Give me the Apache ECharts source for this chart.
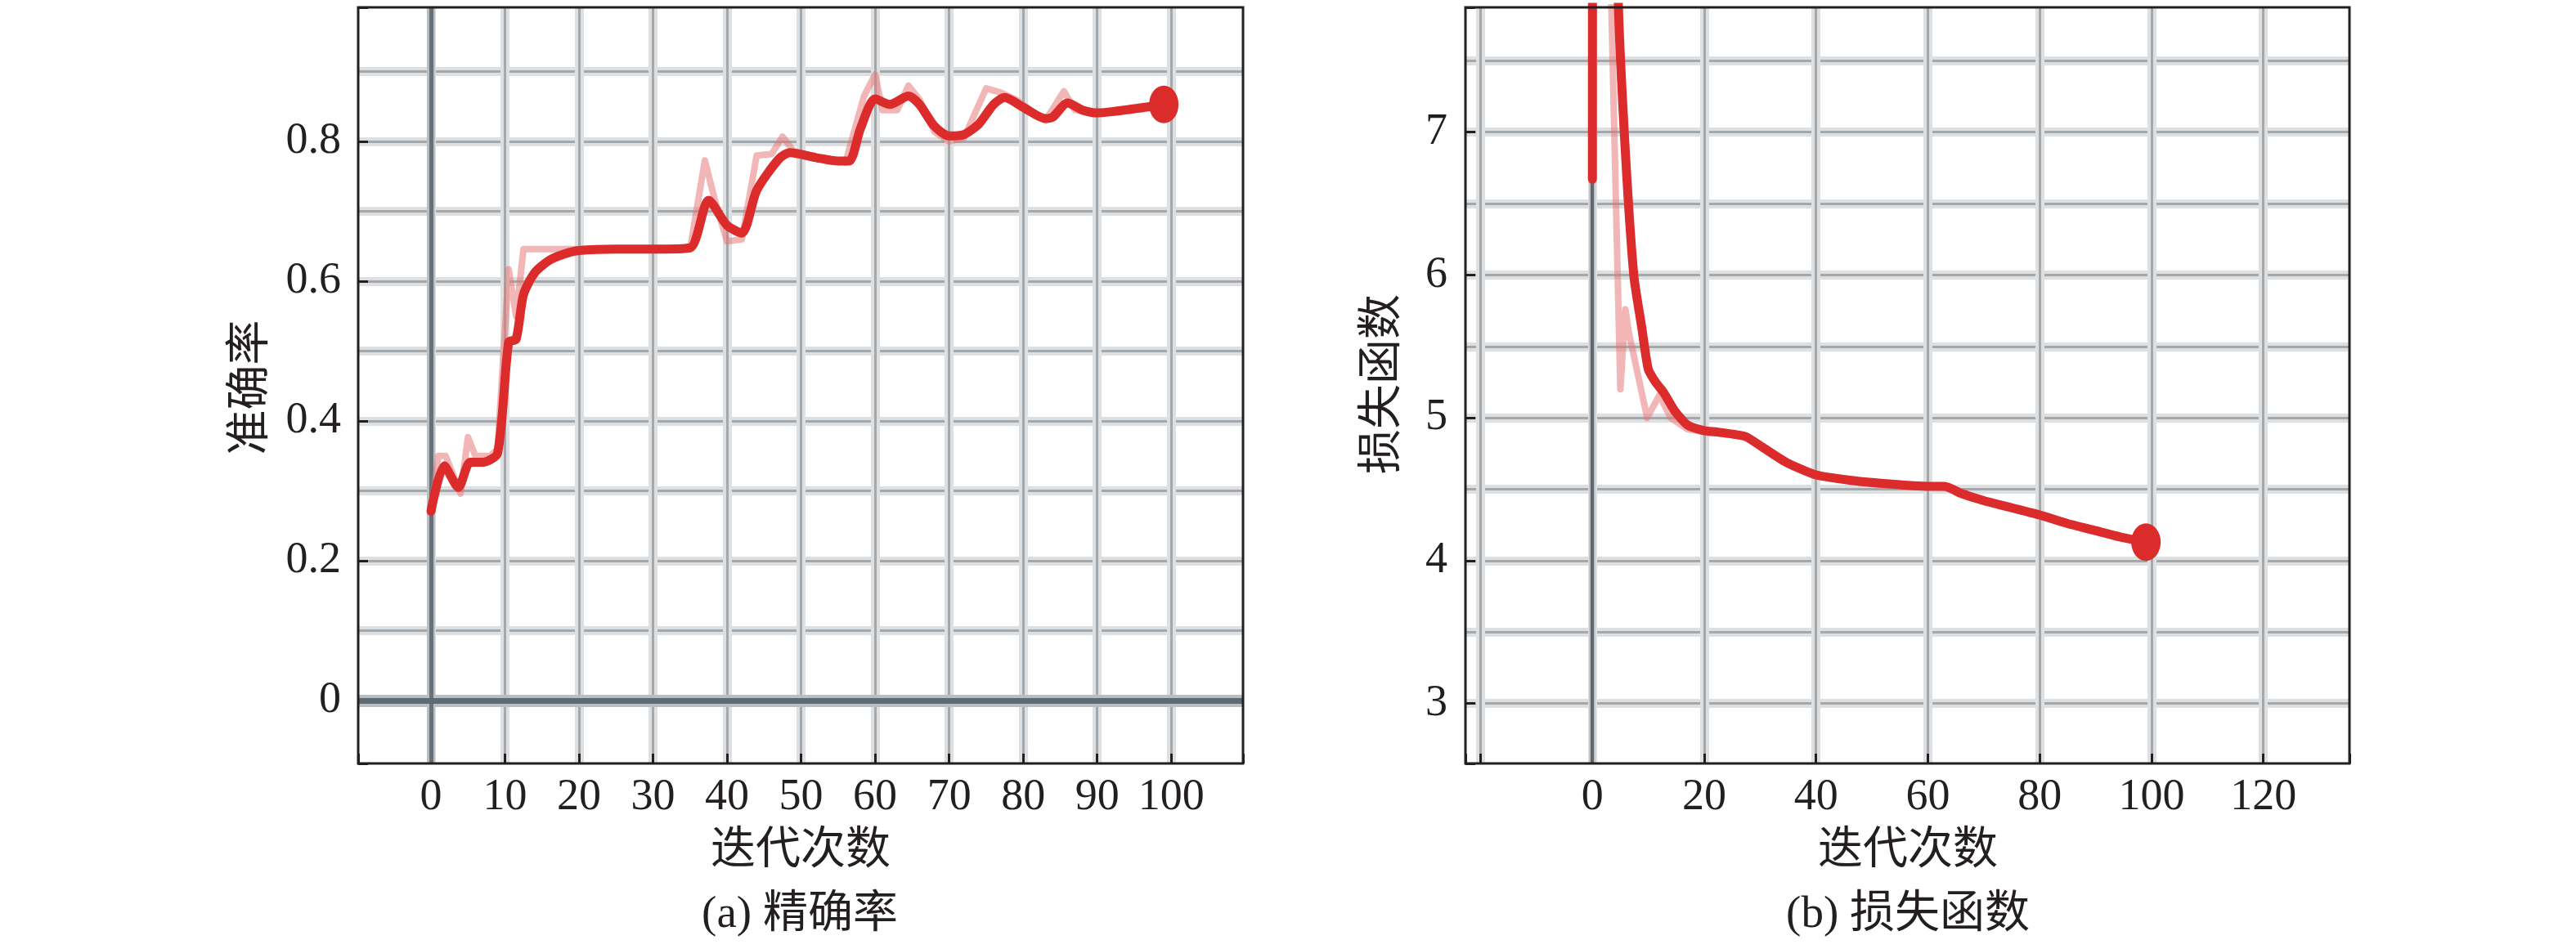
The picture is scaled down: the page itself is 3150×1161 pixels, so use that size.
<!DOCTYPE html>
<html>
<head>
<meta charset="utf-8">
<script src="https://cdn.jsdelivr.net/npm/echarts@6/dist/echarts.min.js"></script>
<style>
  html, body { margin: 0; padding: 0; background: #fff; }
  #chart { width: 3150px; height: 1161px; }
</style>
</head>
<body>
<div id="chart"></div>
<script>
// (a) 精确率 — smoothed curve and raw curve (iteration, value)
const accIter = [0, 1.8, 3.7, 5.3, 7, 9, 10.5, 11.5, 12.5, 14, 16, 18, 20, 25, 30, 35, 37.5, 40, 42, 44, 47, 48.5, 52, 55, 56.5, 58, 60, 62, 64.5, 66, 68, 70, 72, 74, 76, 77.5, 80, 83, 84, 86, 88, 90, 95, 99]
const accSmooth = [0.271, 0.336, 0.305, 0.341, 0.341, 0.354, 0.513, 0.517, 0.581, 0.612, 0.630, 0.639, 0.644, 0.646, 0.646, 0.648, 0.716, 0.680, 0.669, 0.730, 0.775, 0.784, 0.777, 0.772, 0.772, 0.818, 0.861, 0.853, 0.865, 0.853, 0.822, 0.808, 0.810, 0.825, 0.853, 0.863, 0.849, 0.833, 0.835, 0.855, 0.845, 0.841, 0.847, 0.853]
const accRawIter = [0, 1, 2, 4, 5, 6, 8, 9, 10.5, 11.5, 12.5, 20, 35, 37, 38.5, 40, 42, 44, 46, 47.5, 49, 52, 56, 58.5, 60, 61, 63, 64.5, 66, 68, 70, 72, 75, 77, 79, 83, 85.5, 87, 90, 95, 99]
const accRaw = [0.27, 0.35, 0.35, 0.296, 0.377, 0.35, 0.35, 0.36, 0.617, 0.55, 0.646, 0.646, 0.646, 0.773, 0.71, 0.657, 0.66, 0.78, 0.782, 0.807, 0.786, 0.778, 0.77, 0.865, 0.896, 0.845, 0.845, 0.88, 0.86, 0.814, 0.80, 0.805, 0.876, 0.87, 0.86, 0.83, 0.872, 0.845, 0.84, 0.845, 0.85]

// (b) 损失函数 — the early values run far above the visible range
const lossIter = [0, 0.3, 4.2, 4.6, 5.7, 7.4, 8.8, 10, 11.3, 12.7, 14.7, 17, 20, 22.4, 27.3, 30.2, 34.6, 40, 46.7, 52, 60, 63, 66, 70, 75, 80, 85, 90, 95, 99]
const lossSmooth = [6.67, 15, 15, 8.0, 7.0, 6.0, 5.64, 5.34, 5.25, 5.18, 5.05, 4.95, 4.91, 4.90, 4.87, 4.80, 4.69, 4.60, 4.56, 4.54, 4.52, 4.52, 4.47, 4.42, 4.37, 4.32, 4.26, 4.21, 4.16, 4.13]
const lossRawIter = [0, 0.3, 3.2, 5, 5.9, 6.5, 9.8, 12, 14, 17, 20, 25, 28, 30, 35, 40, 50, 60, 63, 70, 80, 90, 99]
const lossRaw = [6.67, 15, 8.2, 5.2, 5.76, 5.6, 5.0, 5.16, 5.0, 4.92, 4.90, 4.88, 4.86, 4.80, 4.68, 4.60, 4.55, 4.52, 4.51, 4.42, 4.31, 4.20, 4.12]

// tick labels
const accXTicks = [0, 10, 20, 30, 40, 50, 60, 70, 80, 90, 100]
const accYTicks = [0, 0.2, 0.4, 0.6, 0.8]
const lossXTicks = [0, 20, 40, 60, 80, 100, 120]
const lossYTicks = [3, 4, 5, 6, 7]

// axis ranges
const accXRange = [-9.83, 109.7]
const accYRange = [-0.09, 0.992]
const lossXRange = [-22.7, 135.4]
const lossYRange = [2.58, 7.874]

const SERIF = "'Liberation Serif', 'Noto Sans CJK SC', serif"
const INK = '#231f20'
const RED = '#dc2b2b'
const PINK = 'rgba(232, 110, 110, 0.5)'

const pairs = (xs, ys) => xs.map((x, i) => [x, ys[i]])
const onlyTicks = (ticks) => (v) => {
  const hit = ticks.find(t => Math.abs(t - v) < 1e-6)
  return hit === undefined ? '' : String(hit)
}

// a plain value axis with nothing shown
const baseAxis = (gridIndex, range, step, extra) => Object.assign({
  type: 'value',
  gridIndex: gridIndex,
  min: range[0],
  max: range[1],
  minInterval: step,
  maxInterval: step,
  axisLine: { show: false, onZero: false },
  axisTick: { show: false },
  axisLabel: { show: false },
  splitLine: { show: false }
}, extra)

const halo = { show: true, showMinLine: false, showMaxLine: false, lineStyle: { color: '#dedfe1', width: 11 } }
const core = { show: true, showMinLine: false, showMaxLine: false, lineStyle: { color: '#a3a8ad', width: 3 } }
const tick = { show: true, inside: true, length: 12, lineStyle: { color: INK, width: 3 } }
const label = (ticks, margin) => ({
  show: true, margin: margin, color: INK, fontSize: 54, fontFamily: SERIF, formatter: onlyTicks(ticks)
})

const accRect = { left: 438, top: 9, width: 1082, height: 925 }
const lossRect = { left: 1792, top: 9, width: 1081, height: 925 }

const grids = []
;[accRect, lossRect].forEach(r => {
  grids.push(Object.assign({ show: false }, r))
  grids.push(Object.assign({ show: false }, r))
  grids.push(Object.assign({ show: true, borderColor: INK, borderWidth: 3, backgroundColor: 'transparent', z: 10 }, r))
})

const xAxes = [
  baseAxis(0, accXRange, 10, { splitLine: halo }),
  baseAxis(1, accXRange, 10, { splitLine: core, axisTick: tick, axisLabel: label(accXTicks, 15) }),
  baseAxis(2, accXRange, 10),
  baseAxis(3, lossXRange, 20, { splitLine: halo }),
  baseAxis(4, lossXRange, 20, { splitLine: core, axisTick: tick, axisLabel: label(lossXTicks, 15) }),
  baseAxis(5, lossXRange, 20)
]
const yAxes = [
  baseAxis(0, accYRange, 0.1, { splitLine: halo }),
  baseAxis(1, accYRange, 0.1, { splitLine: core }),
  baseAxis(2, accYRange, 0.2, { axisTick: tick, axisLabel: label(accYTicks, 21) }),
  baseAxis(3, lossYRange, 0.5, { splitLine: halo }),
  baseAxis(4, lossYRange, 0.5, { splitLine: core }),
  baseAxis(5, lossYRange, 1, { axisTick: tick, axisLabel: label(lossYTicks, 22) })
]

// dark zero lines through the library's scales
const zeroLines = (axisIdx, items, z) => ({
  type: 'line', xAxisIndex: axisIdx, yAxisIndex: axisIdx, data: [], silent: true,
  markLine: {
    z: z, silent: true, symbol: 'none', label: { show: false }, emphasis: { disabled: true },
    animation: false, data: items
  }
})
const zl = (key, color, width) => ({ [key]: 0, lineStyle: { color: color, width: width, type: 'solid' } })

const curve = (axisIdx, data, color, width, z, smooth) => ({
  type: 'line', xAxisIndex: axisIdx, yAxisIndex: axisIdx, data: data, z: z,
  showSymbol: false, symbol: 'none', silent: true, clip: true, smooth: smooth || false,
  lineStyle: { color: color, width: width, cap: 'round', join: 'round' }
})
const endDot = (axisIdx, xs, ys) => ({
  type: 'scatter', xAxisIndex: axisIdx, yAxisIndex: axisIdx, z: 6, silent: true,
  symbol: 'circle', symbolSize: [36, 46], itemStyle: { color: RED, opacity: 1 },
  data: [[xs[xs.length - 1], ys[ys.length - 1]]]
})

const series = [
  zeroLines(1, [zl('xAxis', '#b9bec2', 10), zl('yAxis', '#b9bec2', 15)], 1),
  zeroLines(1, [zl('xAxis', '#66717a', 5), zl('yAxis', '#5f6a72', 7)], 2),
  zeroLines(4, [zl('xAxis', '#bfc3c6', 8)], 1),
  zeroLines(4, [zl('xAxis', '#5f6870', 4)], 2),
  curve(1, pairs(accRawIter, accRaw), PINK, 8, 3),
  curve(1, pairs(accIter, accSmooth), RED, 11, 4, 0.25),
  endDot(1, accIter, accSmooth),
  curve(4, pairs(lossRawIter, lossRaw), PINK, 8, 3),
  curve(4, pairs(lossIter, lossSmooth), RED, 11, 4, 0.2),
  endDot(4, lossIter, lossSmooth)
]

const text = (str, x, y, rot) => ({
  type: 'text', x: x, y: y, rotation: rot || 0, z: 20, silent: true,
  style: { text: str, fill: INK, fontSize: 55, fontFamily: SERIF, align: 'center', verticalAlign: 'middle' }
})

const option = {
  backgroundColor: '#ffffff',
  animation: false,
  grid: grids,
  xAxis: xAxes,
  yAxis: yAxes,
  series: series,
  graphic: [
    text('准确率', 308, 474, Math.PI / 2),
    text('迭代次数', 979, 1042),
    text('(a) 精确率', 978, 1120),
    text('损失函数', 1692, 470, Math.PI / 2),
    text('迭代次数', 2333, 1042),
    text('(b) 损失函数', 2333, 1120)
  ]
}

const myChart = echarts.init(document.getElementById('chart'))
myChart.setOption(option)
</script>
</body>
</html>
